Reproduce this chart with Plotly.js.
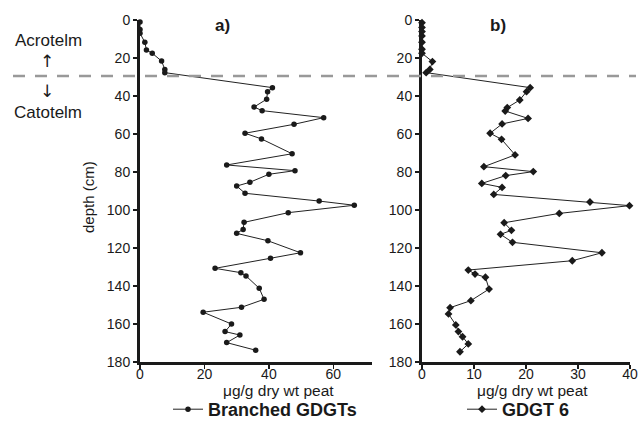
<!DOCTYPE html>
<html>
<head>
<meta charset="utf-8">
<script src="https://cdn.plot.ly/plotly-3.0.1.min.js"></script>
<style>
html,body{margin:0;padding:0;background:#fff;width:639px;height:423px;overflow:hidden;}
#wrap{width:639px;height:423px;overflow:hidden;position:relative;}
#chart{width:639px;height:428px;}
</style>
</head>
<body>
<div id="wrap"><div id="chart"></div></div>
<script>
// Panel a: Branched GDGTs
const depthA = [1, 5, 7, 11.7, 15.8, 17.5, 21.6, 26, 27.7, 35.6, 37.7, 41.7, 45.8, 47.7, 51.4, 54.9, 59.6, 62.6, 70.4, 76.3, 79.3, 81.2, 85.4, 87.4, 91.2, 95.3, 97.5, 101.4, 106.5, 110.2, 112.3, 116.2, 122.5, 125.4, 130.7, 133, 134.7, 141.2, 147, 151.2, 153.8, 160, 164, 165.8, 169.8, 173.8];
const branchedGDGTs = [0, 0, 0, 1.5, 2, 3.8, 6.7, 7.7, 7.7, 41.1, 39.6, 39.3, 35.4, 37.9, 57, 47.8, 32.6, 37.7, 47.2, 26.9, 48.1, 40, 34.1, 30, 32.6, 55.6, 66.5, 46, 32.3, 32, 30, 39.7, 49.8, 40.5, 23.3, 31.3, 32.9, 37, 38.5, 31.5, 19.6, 28.4, 26.4, 31, 26.9, 35.9];
// Panel b: GDGT 6
const depthB = [1.4, 3.9, 6.1, 8.4, 11.7, 15.4, 17.5, 21.9, 26, 27.7, 35.6, 37.7, 42.1, 46.1, 47.9, 51.8, 54.7, 59.6, 62.8, 71, 77.2, 79.8, 81.9, 86, 88.1, 91.8, 95.8, 97.7, 101.8, 106.7, 110.7, 112.8, 117, 122.5, 126.7, 131.6, 133.7, 135.4, 141.6, 147.7, 151.4, 154.7, 160.5, 164, 166.7, 170.5, 174.6];
const gdgt6 = [0, 0, 0, 0, 0, 0, 0, 2.0, 1.5, 0.8, 20.8, 20.1, 18.8, 16.4, 16, 20.4, 15.4, 13.1, 15.3, 17.9, 11.9, 21.4, 16.1, 11.5, 15.4, 13.8, 32.3, 39.9, 26.4, 15.8, 17.2, 15.1, 17.4, 34.6, 28.9, 8.9, 10.2, 12.2, 12.9, 9.4, 5.4, 5.1, 6.5, 7, 7.8, 8.9, 7.3];

const seriesNames = ["Branched GDGTs", "GDGT 6"];
const panelLabels = ["a)", "b)"];
const depthTicks = [0, 20, 40, 60, 80, 100, 120, 140, 160, 180];
const ticksA = [0, 20, 40, 60];
const ticksB = [0, 10, 20, 30, 40];
const acrotelmBoundary = 29.5;

// figure drawn 5px taller than the 423px view so the legend's bottom padding falls outside
const W = 639, H = 428;
const px = v => v / W, py = v => 1 - v / H;
const FONT = "Liberation Sans, Arial, sans-serif";
const ink = "#1a1a1a";

const traces = [
  {x: branchedGDGTs, y: depthA, xaxis: "x", yaxis: "y", name: seriesNames[0], legend: "legend",
   mode: "lines+markers", cliponaxis: false,
   line: {color: "#222", width: 1}, marker: {symbol: "circle", size: 5.5, color: ink}},
  {x: gdgt6, y: depthB, xaxis: "x2", yaxis: "y2", name: seriesNames[1], legend: "legend2",
   mode: "lines+markers", cliponaxis: false,
   line: {color: "#222", width: 1}, marker: {symbol: "diamond", size: 6, color: ink}}
];

const axBase = {showgrid: false, zeroline: false, showline: true, linecolor: ink, linewidth: 3,
  ticks: "outside", ticklen: 4, tickwidth: 1.5, tickcolor: ink,
  tickfont: {family: FONT, size: 14, color: ink}, fixedrange: true};
const xBase = Object.assign({}, axBase, {ticklabelstandoff: -7});

function ann(text, x, y, size, extra) {
  return Object.assign({text: text, xref: "paper", yref: "paper", x: px(x), y: py(y),
    xanchor: "center", yanchor: "middle", showarrow: false,
    font: {family: FONT, size: size, color: ink}}, extra || {});
}

const legendBase = {y: 0, xanchor: "left", yanchor: "bottom", bgcolor: "rgba(0,0,0,0)",
  borderwidth: 0, font: {family: FONT, size: 18, color: ink, weight: "bold"}, itemwidth: 30};

const layout = {
  width: W, height: H,
  margin: {l: 0, r: 0, t: 0, b: 0},
  paper_bgcolor: "#fff", plot_bgcolor: "#fff",
  font: {family: FONT, color: ink},
  xaxis: Object.assign({}, xBase, {domain: [px(140), px(372)], range: [0, 72], tickvals: ticksA, anchor: "y"}),
  yaxis: Object.assign({}, axBase, {domain: [py(362), py(20)], range: [180, 0], tickvals: depthTicks, anchor: "x"}),
  xaxis2: Object.assign({}, xBase, {domain: [px(422), px(630)], range: [0, 40], tickvals: ticksB, anchor: "y2"}),
  yaxis2: Object.assign({}, axBase, {domain: [py(362), py(20)], range: [180, 0], tickvals: depthTicks, anchor: "x2"}),
  showlegend: true,
  legend: Object.assign({}, legendBase, {x: px(168)}),
  legend2: Object.assign({}, legendBase, {x: px(462)}),
  shapes: [
    {type: "line", xref: "paper", yref: "y", x0: px(13), x1: px(636), y0: acrotelmBoundary, y1: acrotelmBoundary,
     line: {color: "#999999", width: 2.5, dash: "12px,10px"}, layer: "above"}
  ],
  annotations: [
    ann(panelLabels[0], 222, 25, 17, {font: {family: FONT, size: 17, color: ink, weight: "bold"}}),
    ann(panelLabels[1], 498, 25, 17, {font: {family: FONT, size: 17, color: ink, weight: "bold"}}),
    ann("Acrotelm", 48, 40, 17),
    ann("↑", 46.5, 61, 17, {font: {family: "DejaVu Sans", size: 17, color: ink}}),
    ann("↓", 46.5, 91, 17, {font: {family: "DejaVu Sans", size: 17, color: ink}}),
    ann("Catotelm", 48, 113, 17),
    ann("depth (cm)", 88, 197, 15, {textangle: -90}),
    ann("μg/g dry wt peat", 278, 390, 15.5),
    ann("μg/g dry wt peat", 532, 390, 15.5)
  ]
};

Plotly.newPlot("chart", traces, layout, {displayModeBar: false, staticPlot: true});
</script>
</body>
</html>
